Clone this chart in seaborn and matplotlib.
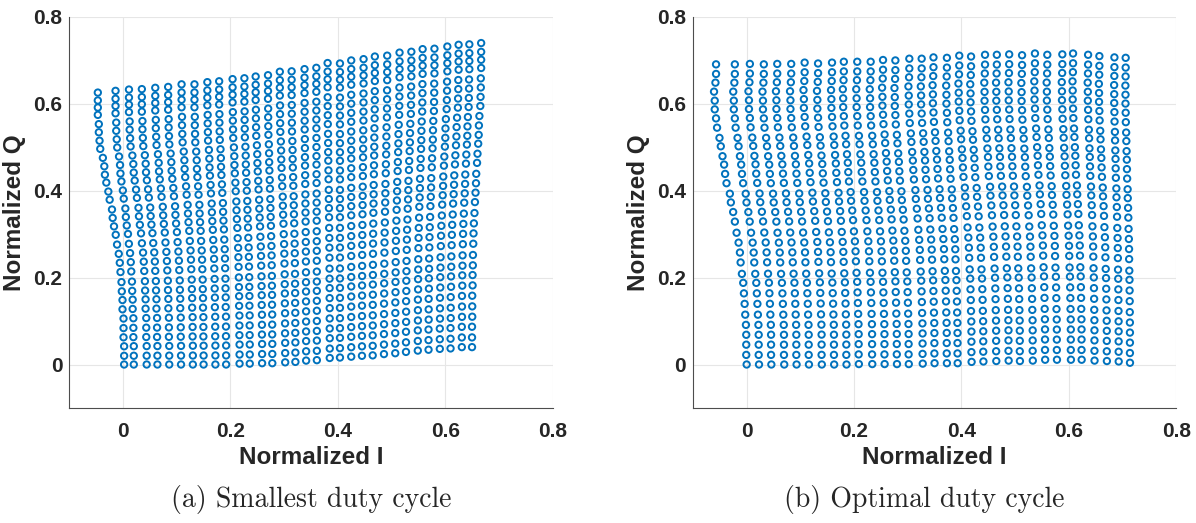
import numpy as np
import pandas as pd
import matplotlib
matplotlib.use("Agg")
import matplotlib.pyplot as plt
import seaborn as sns
from matplotlib.ticker import FuncFormatter

# (a) smallest duty cycle: 32 I-code columns, end points
a_x_bot = [0.002, 0.020, 0.044, 0.064, 0.086, 0.108, 0.130, 0.150, 0.172, 0.192, 0.217, 0.236,
           0.259, 0.278, 0.302, 0.321, 0.341, 0.361, 0.385, 0.404, 0.425, 0.445, 0.465, 0.486,
           0.507, 0.527, 0.549, 0.569, 0.590, 0.610, 0.631, 0.650]
a_y_bot = [0, 0, 0, 0, 0, 0, 0, 0, 0, 0, 0.002, 0.002, 0.003, 0.003, 0.005, 0.006,
           0.009, 0.010, 0.015, 0.016, 0.018, 0.020, 0.021, 0.024, 0.026, 0.029, 0.032, 0.034,
           0.036, 0.037, 0.040, 0.040]
a_x_top = [-0.047, -0.014, 0.011, 0.035, 0.060, 0.084, 0.109, 0.133, 0.157, 0.179, 0.204, 0.226,
           0.247, 0.270, 0.292, 0.314, 0.338, 0.360, 0.381, 0.404, 0.425, 0.448, 0.469, 0.492,
           0.515, 0.537, 0.558, 0.580, 0.604, 0.625, 0.645, 0.667]
a_y_top = [0.626, 0.630, 0.633, 0.634, 0.637, 0.639, 0.645, 0.645, 0.650, 0.652, 0.657, 0.659,
           0.663, 0.666, 0.674, 0.675, 0.680, 0.683, 0.694, 0.693, 0.700, 0.703, 0.709, 0.711,
           0.718, 0.720, 0.726, 0.727, 0.732, 0.736, 0.737, 0.740]
# position of each Q code along a column (0 = code 0, 1 = code 31), read from the first column
a_q_dx = [0, 0, 0, 0.023, 0.023, 0.023, 0.062, 0.062, 0.088, 0.100, 0.138, 0.165, 0.204, 0.269,
          0.319, 0.385, 0.435, 0.462, 0.550, 0.600, 0.677, 0.731, 0.754, 0.808, 0.908, 0.935,
          0.962, 0.962, 1, 1, 1, 1]
a_q_dy = [0, 0.032, 0.067, 0.100, 0.134, 0.169, 0.203, 0.237, 0.269, 0.303, 0.340, 0.374, 0.407,
          0.441, 0.477, 0.508, 0.539, 0.570, 0.606, 0.636, 0.669, 0.698, 0.729, 0.760, 0.793,
          0.823, 0.854, 0.884, 0.918, 0.945, 0.971, 1]

# (b) optimal duty cycle
b_x_bot = [0, 0.023, 0.046, 0.070, 0.093, 0.116, 0.140, 0.163, 0.186, 0.209, 0.234, 0.257,
           0.280, 0.302, 0.328, 0.350, 0.373, 0.393, 0.419, 0.441, 0.465, 0.488, 0.509, 0.533,
           0.556, 0.578, 0.604, 0.624, 0.648, 0.671, 0.693, 0.714]
b_y_bot = [0, 0, 0, 0, 0, 0, 0, 0, 0, 0.001, 0.001, 0.001, 0.001, 0.001, 0.002, 0.003,
           0.003, 0.003, 0.006, 0.007, 0.008, 0.009, 0.008, 0.009, 0.011, 0.011, 0.011, 0.011,
           0.009, 0.008, 0.007, 0.004]
b_x_top = [-0.057, -0.022, 0.006, 0.032, 0.057, 0.083, 0.108, 0.133, 0.159, 0.181, 0.206, 0.231,
           0.254, 0.277, 0.303, 0.326, 0.348, 0.373, 0.396, 0.418, 0.444, 0.466, 0.489, 0.513,
           0.537, 0.560, 0.588, 0.608, 0.636, 0.657, 0.685, 0.706]
b_y_top = [0.691, 0.691, 0.692, 0.691, 0.692, 0.692, 0.695, 0.693, 0.695, 0.697, 0.697, 0.697,
           0.701, 0.700, 0.704, 0.704, 0.707, 0.706, 0.711, 0.709, 0.713, 0.713, 0.714, 0.712,
           0.716, 0.713, 0.714, 0.716, 0.713, 0.710, 0.707, 0.706]
b_q_dx = [0, 0.013, 0.013, 0.013, 0.023, 0.046, 0.066, 0.089, 0.112, 0.155, 0.197, 0.220, 0.263,
          0.329, 0.385, 0.441, 0.516, 0.549, 0.658, 0.704, 0.737, 0.789, 0.845, 0.888, 0.967,
          1.0, 1.043, 1.043, 1.066, 1.020, 1.0, 1.0]
b_q_dy = [0, 0.032, 0.066, 0.099, 0.132, 0.166, 0.202, 0.237, 0.272, 0.302, 0.340, 0.373, 0.406,
          0.439, 0.476, 0.508, 0.540, 0.569, 0.604, 0.635, 0.666, 0.694, 0.727, 0.755, 0.789,
          0.820, 0.850, 0.879, 0.909, 0.939, 0.968, 1]

ticks = [0, 0.2, 0.4, 0.6, 0.8]
captions = ["(a) Smallest duty cycle", "(b) Optimal duty cycle"]


def build(x_bot, y_bot, x_top, y_top, q_dx, q_dy):
    xb, yb, xt, yt = map(np.asarray, (x_bot, y_bot, x_top, y_top))
    qx, qy = np.asarray(q_dx), np.asarray(q_dy)
    X = xb[:, None] + (xt - xb)[:, None] * qx[None, :]
    Y = yb[:, None] + (yt - yb)[:, None] * qy[None, :]
    return pd.DataFrame({"I": X.ravel(), "Q": Y.ravel()})


sets = [build(a_x_bot, a_y_bot, a_x_top, a_y_top, a_q_dx, a_q_dy),
        build(b_x_bot, b_y_bot, b_x_top, b_y_top, b_q_dx, b_q_dy)]

sns.set_style("white")
plt.rcParams["font.family"] = ["Liberation Sans", "DejaVu Sans"]

fig = plt.figure(figsize=(11.96, 5.23), dpi=100)
lefts = [0.058, 0.5794]
grey = "#262626"
for k, df in enumerate(sets):
    ax = fig.add_axes([lefts[k], 0.22, 0.404, 0.7475])
    ax.grid(True, color="#e6e6e6", linewidth=0.8)
    ax.set_axisbelow(True)
    sns.scatterplot(data=df, x="I", y="Q", ax=ax, marker="o", s=21,
                    facecolor="none", edgecolor="#0072BD", linewidth=1.4, legend=False)
    ax.set_xlim(-0.1, 0.8)
    ax.set_ylim(-0.1, 0.8)
    ax.set_xticks(ticks)
    ax.set_yticks(ticks)
    fmt = FuncFormatter(lambda v, p: f"{v:g}")
    ax.xaxis.set_major_formatter(fmt)
    ax.yaxis.set_major_formatter(fmt)
    for lab in ax.get_xticklabels() + ax.get_yticklabels():
        lab.set_fontweight("bold")
    ax.tick_params(direction="in", length=4, width=0.8, labelsize=15, colors=grey)
    ax.tick_params(axis="x", pad=10)
    ax.tick_params(axis="y", pad=5)
    ax.set_xlabel("Normalized I", fontsize=17.5, fontweight="bold", color=grey, labelpad=4)
    ax.set_ylabel("Normalized Q", fontsize=17.5, fontweight="bold", color=grey, labelpad=5)
    for side in ["top", "right"]:
        ax.spines[side].set_visible(False)
    for side in ["left", "bottom"]:
        ax.spines[side].set_color("#4d4d4d")
        ax.spines[side].set_linewidth(0.8)

fig.text(311 / 1196, 0.044, captions[0], ha="center", va="center", fontsize=20, family="cmr10")
fig.text(924 / 1196, 0.044, captions[1], ha="center", va="center", fontsize=20, family="cmr10")

fig.savefig("out.png", dpi=100)
